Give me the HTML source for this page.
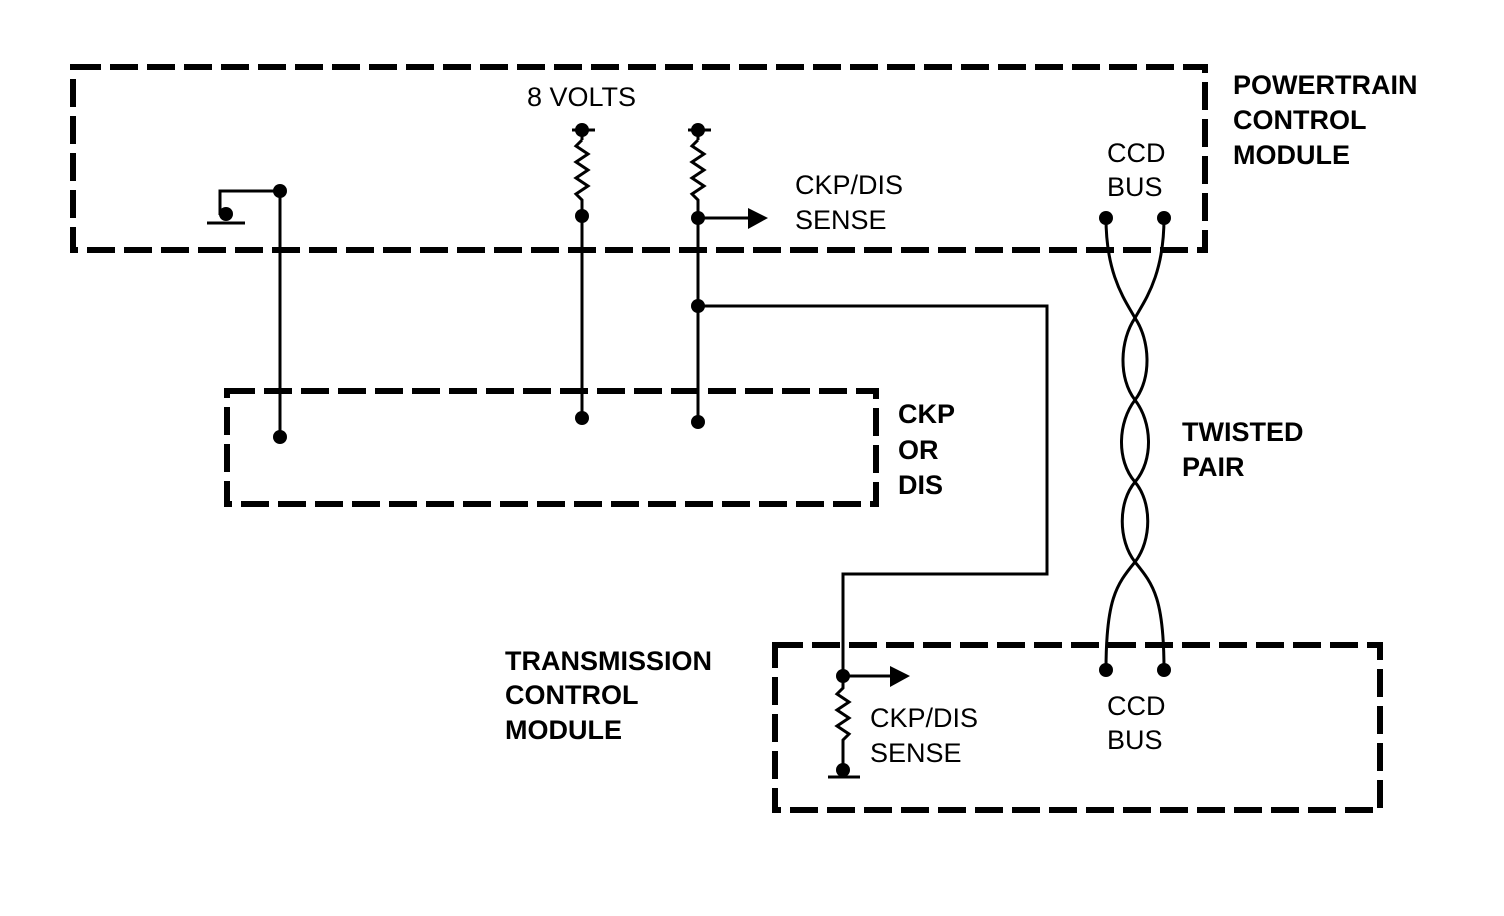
<!DOCTYPE html>
<html><head><style>
html,body{margin:0;padding:0;background:#fff;}
svg{display:block;}
text{font-family:"Liberation Sans",Arial,sans-serif;font-size:27px;fill:#000;}
.b{font-weight:bold;}
</style></head><body>
<svg width="1504" height="916" viewBox="0 0 1504 916" xmlns="http://www.w3.org/2000/svg">
<g fill="none" stroke="#000" stroke-width="6" stroke-dasharray="28 9">
<rect x="73" y="67" width="1132" height="183"/>
<rect x="227" y="391" width="649" height="113"/>
<rect x="775" y="645" width="605" height="165"/>
</g>
<g fill="none" stroke="#000" stroke-width="3">
<!-- ground left -->
<polyline points="220,215 220,191 280,191"/>
<line x1="207" y1="223" x2="245" y2="223"/>
<line x1="280" y1="191" x2="280" y2="437"/>
<!-- column 582 -->
<line x1="582" y1="130" x2="582" y2="140"/>
<polyline points="582,140 576,146 588,154 576,162 588,170 576,178 588,186 576,194 582,200 582,418"/>
<line x1="572" y1="130" x2="595" y2="130"/>
<!-- column 698 -->
<line x1="698" y1="130" x2="698" y2="140"/>
<polyline points="698,140 692,146 704,154 692,162 704,170 692,178 704,186 692,194 698,200 698,422"/>
<line x1="688" y1="130" x2="711" y2="130"/>
<line x1="698" y1="218" x2="752" y2="218"/>
<polyline points="698,306 1047,306 1047,574 843,574 843,676"/>
<line x1="843" y1="676" x2="895" y2="676"/>
<polyline points="843,676 843,688 837,694 849,702 837,710 849,718 837,726 849,734 843,740 843,770"/>
<line x1="828" y1="777" x2="860" y2="777"/>
<!-- twisted pair -->
<path d="M1106,218 C1106,275 1125,300 1135,318 C1150,340 1152,378 1135,400 C1118,422 1116,460 1135,482 C1152,502 1152,540 1135,562 C1116,585 1106,600 1106,670"/>
<path d="M1164,218 C1164,275 1145,300 1135,318 C1120,340 1118,378 1135,400 C1152,422 1154,460 1135,482 C1118,502 1118,540 1135,562 C1154,585 1164,600 1164,670"/>
</g>
<g fill="#000">
<circle cx="226" cy="214" r="7"/>
<circle cx="280" cy="191" r="7"/>
<circle cx="280" cy="437" r="7"/>
<circle cx="582" cy="130" r="7"/>
<circle cx="582" cy="216" r="7"/>
<circle cx="582" cy="418" r="7"/>
<circle cx="698" cy="130" r="7"/>
<circle cx="698" cy="218" r="7"/>
<circle cx="698" cy="306" r="7"/>
<circle cx="698" cy="422" r="7"/>
<circle cx="843" cy="676" r="7"/>
<circle cx="843" cy="770" r="7"/>
<circle cx="1106" cy="218" r="7"/>
<circle cx="1164" cy="218" r="7"/>
<circle cx="1106" cy="670" r="7"/>
<circle cx="1164" cy="670" r="7"/>
<polygon points="748,208 768,218 748,229"/>
<polygon points="890,666 910,676 890,687"/>
</g>
<text x="527" y="106">8 VOLTS</text>
<text x="795" y="194">CKP/DIS</text>
<text x="795" y="229">SENSE</text>
<text x="1107" y="162">CCD</text>
<text x="1107" y="196">BUS</text>
<text class="b" x="1233" y="94">POWERTRAIN</text>
<text class="b" x="1233" y="129">CONTROL</text>
<text class="b" x="1233" y="164">MODULE</text>
<text class="b" x="898" y="423">CKP</text>
<text class="b" x="898" y="459">OR</text>
<text class="b" x="898" y="494">DIS</text>
<text class="b" x="1182" y="441">TWISTED</text>
<text class="b" x="1182" y="476">PAIR</text>
<text class="b" x="505" y="670">TRANSMISSION</text>
<text class="b" x="505" y="704">CONTROL</text>
<text class="b" x="505" y="739">MODULE</text>
<text x="870" y="727">CKP/DIS</text>
<text x="870" y="762">SENSE</text>
<text x="1107" y="715">CCD</text>
<text x="1107" y="749">BUS</text>
</svg>
</body></html>
